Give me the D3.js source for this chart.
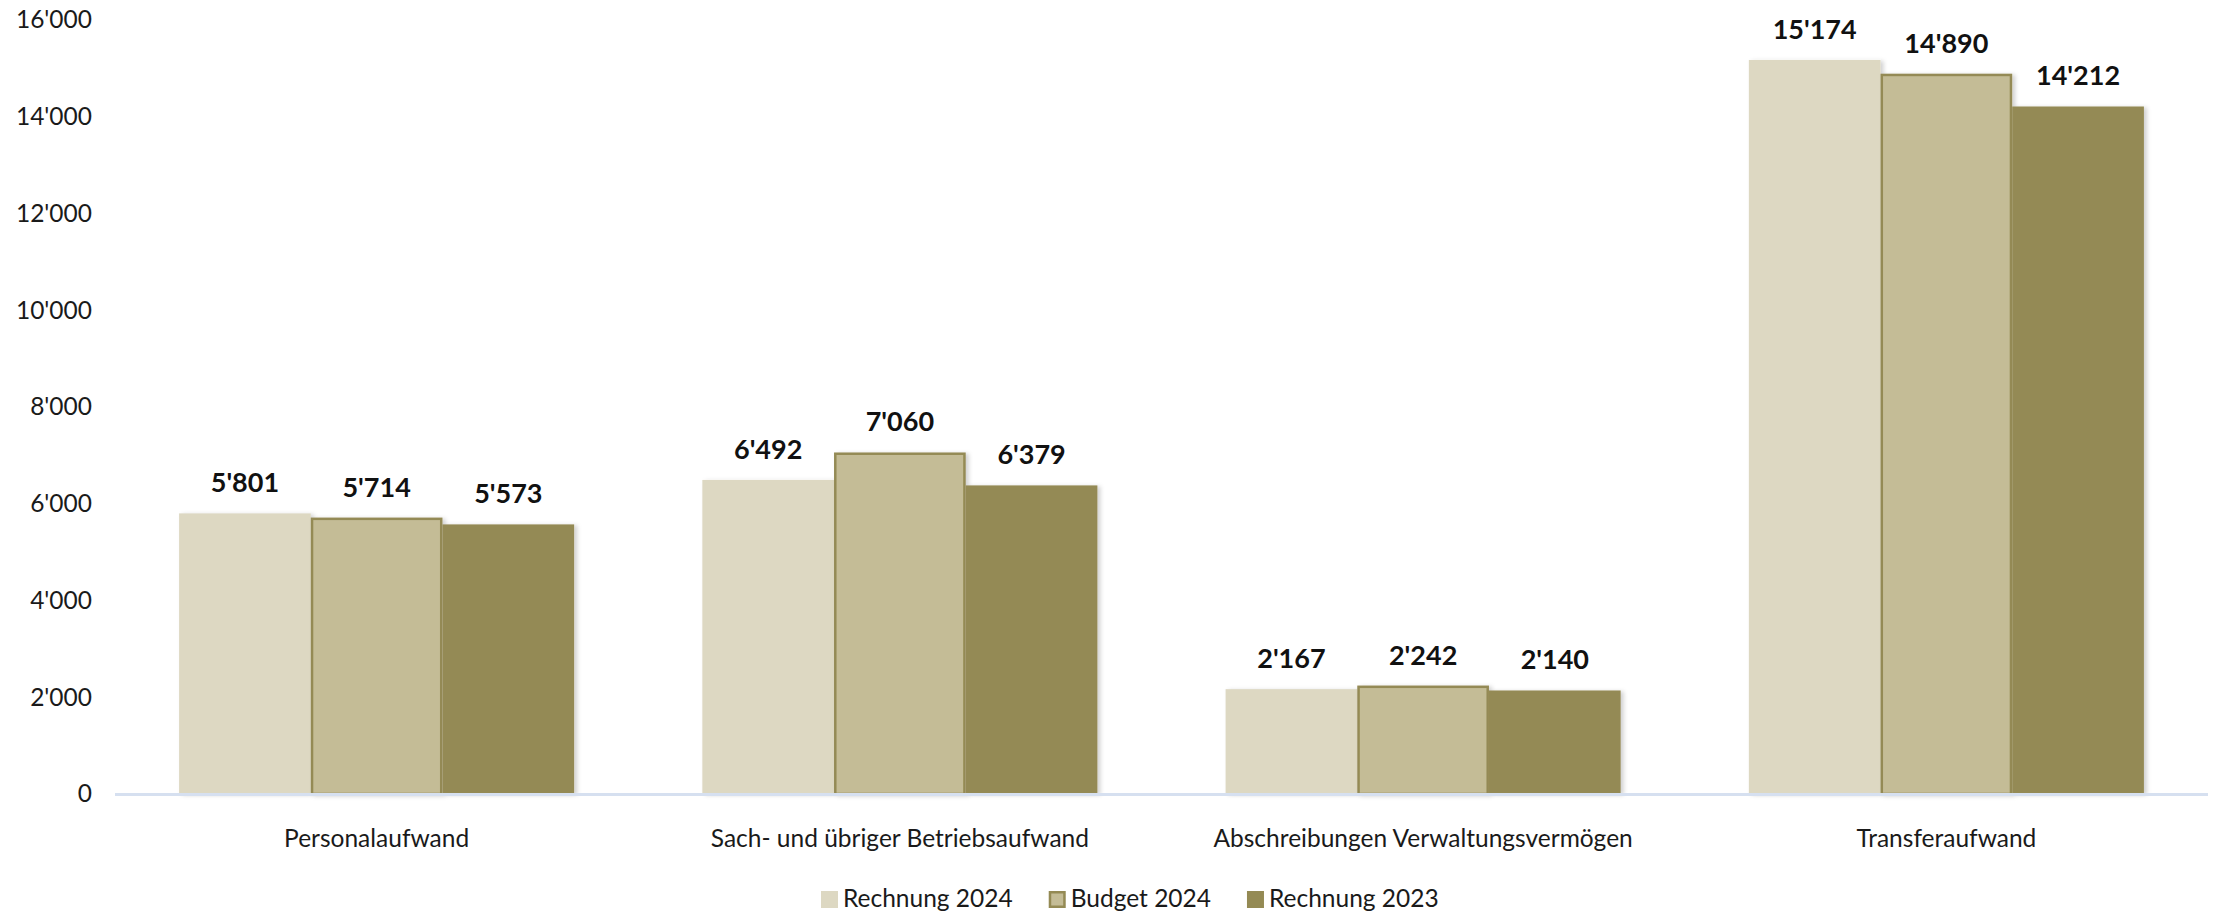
<!DOCTYPE html>
<html>
<head>
<meta charset="utf-8">
<script src="https://cdn.jsdelivr.net/npm/d3@7"></script>
<style>
  body { margin: 0; background: #fff; }
  svg { display: block; font-family: Lato, "Open Sans", sans-serif; }
</style>
</head>
<body>
<svg id="chart" width="2218" height="912"></svg>
<script>
const categories = [
  "Personalaufwand",
  "Sach- und übriger Betriebsaufwand",
  "Abschreibungen Verwaltungsvermögen",
  "Transferaufwand"
];
const seriesNames = ["Rechnung 2024", "Budget 2024", "Rechnung 2023"];
const rechnung2024 = [5801, 6492, 2167, 15174];
const budget2024 = [5714, 7060, 2242, 14890];
const rechnung2023 = [5573, 6379, 2140, 14212];
const yTicks = [0, 2000, 4000, 6000, 8000, 10000, 12000, 14000, 16000];

const width = 2218;
const height = 912;
const margin = { top: 20, right: 10, bottom: 118, left: 115 };

const fills = ["#DDD8C2", "#C4BC96", "#948A54"];
const strokes = [null, "#948A54", null];

const svg = d3.select("#chart");

const locale = d3.formatLocale({ decimal: ".", thousands: "'", grouping: [3], currency: ["", ""] });
const fmt = locale.format(",d");

const series = [rechnung2024, budget2024, rechnung2023];
const rows = categories.map((c, i) => ({
  category: c,
  values: series.map((s, k) => ({ key: seriesNames[k], k: k, value: s[i] }))
}));

const x0 = d3.scaleBand()
  .domain(categories)
  .range([margin.left, width - margin.right])
  .paddingInner(0.245)
  .paddingOuter(0.1225);

const x1 = d3.scaleBand()
  .domain(seriesNames)
  .range([0, x0.bandwidth()])
  .padding(0);

const y = d3.scaleLinear()
  .domain([0, 16000])
  .range([height - margin.bottom, margin.top]);

// shadow like the office chart
const defs = svg.append("defs");
const f = defs.append("filter").attr("id", "shadow")
  .attr("x", "-10%").attr("y", "-10%").attr("width", "130%").attr("height", "120%");
f.append("feDropShadow")
  .attr("dx", 3).attr("dy", 1).attr("stdDeviation", 2)
  .attr("flood-color", "#000").attr("flood-opacity", 0.18);

// y axis labels
const yAxis = svg.append("g")
  .attr("transform", `translate(${margin.left - 23},0)`)
  .call(d3.axisLeft(y).tickValues(yTicks).tickFormat(fmt).tickSize(0).tickPadding(0));
yAxis.select(".domain").remove();
yAxis.selectAll("text")
  .style("font-family", "Lato, sans-serif")
  .style("font-size", "24.5px")
  .style("fill", "#1a1a1a");

// bars
const groups = svg.append("g")
  .selectAll("g")
  .data(rows)
  .join("g")
  .attr("transform", d => `translate(${x0(d.category)},0)`);

groups.selectAll("rect")
  .data(d => d.values)
  .join("rect")
  .attr("x", d => x1(d.key) + (strokes[d.k] ? 1.25 : 0))
  .attr("y", d => y(d.value) + (strokes[d.k] ? 1.25 : 0))
  .attr("width", d => x1.bandwidth() - (strokes[d.k] ? 2.5 : 0))
  .attr("height", d => y(0) - y(d.value) - (strokes[d.k] ? 1.25 : 0))
  .attr("fill", d => fills[d.k])
  .attr("stroke", d => strokes[d.k] || "none")
  .attr("stroke-width", 2.5)
  .attr("filter", "url(#shadow)");

// value labels
groups.selectAll("text.val")
  .data(d => d.values)
  .join("text")
  .attr("class", "val")
  .attr("x", d => x1(d.key) + x1.bandwidth() / 2)
  .attr("y", d => y(d.value) - 21)
  .attr("text-anchor", "middle")
  .style("font-size", "27px")
  .style("font-weight", "bold")
  .style("fill", "#111")
  .text(d => fmt(d.value));

// x axis line
svg.append("line")
  .attr("x1", margin.left)
  .attr("x2", width - margin.right)
  .attr("y1", y(0) + 0.5)
  .attr("y2", y(0) + 0.5)
  .attr("stroke", "#D6E0F0")
  .attr("stroke-width", 3);

// category labels
const xAxis = svg.append("g")
  .attr("transform", `translate(0,${y(0)})`)
  .call(d3.axisBottom(x0).tickSize(0).tickPadding(0));
xAxis.select(".domain").remove();
xAxis.selectAll("text")
  .attr("dy", null)
  .attr("y", 53)
  .style("font-family", "Lato, sans-serif")
  .style("font-size", "24.5px")
  .style("fill", "#1a1a1a");

// legend
const legend = svg.append("g").attr("transform", "translate(821,0)");
let lx = 0;
seriesNames.forEach((name, k) => {
  const item = legend.append("g").attr("transform", `translate(${lx},0)`);
  const sw = strokes[k] ? 1.25 : 0;
  item.append("rect")
    .attr("x", sw)
    .attr("y", 891 + sw)
    .attr("width", 17 - 2 * sw)
    .attr("height", 17 - 2 * sw)
    .attr("fill", fills[k])
    .attr("stroke", strokes[k] || "none")
    .attr("stroke-width", 2.5);
  const t = item.append("text")
    .attr("x", 22)
    .attr("y", 907)
    .style("font-size", "24.5px")
    .style("fill", "#1a1a1a")
    .text(name);
  lx += 22 + t.node().getComputedTextLength() + 36;
});
</script>
</body>
</html>
